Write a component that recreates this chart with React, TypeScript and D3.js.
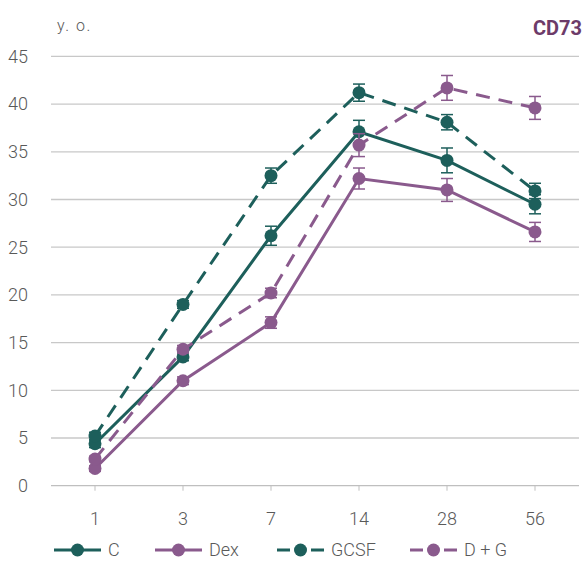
import React from "react";
import * as d3 from "d3";

const categories = ["1", "3", "7", "14", "28", "56"];
const yTicks = [0, 5, 10, 15, 20, 25, 30, 35, 40, 45];

const cValues = [4.4, 13.5, 26.2, 37.1, 34.1, 29.5];
const cErrors = [0.4, 0.4, 1.0, 1.2, 1.3, 1.0];
const dexValues = [1.8, 11.0, 17.1, 32.2, 31.0, 26.6];
const dexErrors = [0.3, 0.4, 0.6, 1.1, 1.2, 1.0];
const gcsfValues = [5.2, 19.0, 32.5, 41.2, 38.1, 30.9];
const gcsfErrors = [0.4, 0.4, 0.8, 0.9, 0.8, 0.8];
const dgValues = [2.8, 14.3, 20.2, 35.7, 41.7, 39.6];
const dgErrors = [0.3, 0.4, 0.5, 1.2, 1.3, 1.2];

const seriesNames = ["C", "Dex", "GCSF", "D + G"];

const TEAL = "#1d5f5b";
const PURPLE = "#8a5a8d";

export default function App() {
  const W = 585, H = 562;
  const left = 51, right = 579, top = 56.4, bottom = 485.7;
  const x = d3.scaleBand<string>().domain(categories).range([left, right]);
  const y = d3.scaleLinear().domain([0, 45]).range([bottom, top]);
  const cx = (c: string) => (x(c) as number) + x.bandwidth() / 2;

  const series = [
    { name: seriesNames[0], values: cValues, errors: cErrors, color: TEAL, dash: "" },
    { name: seriesNames[1], values: dexValues, errors: dexErrors, color: PURPLE, dash: "" },
    { name: seriesNames[2], values: gcsfValues, errors: gcsfErrors, color: TEAL, dash: "14,9" },
    { name: seriesNames[3], values: dgValues, errors: dgErrors, color: PURPLE, dash: "14,9" },
  ];

  const line = d3
    .line<number>()
    .x((_, i) => cx(categories[i]))
    .y((d) => y(d));

  const font = "Roboto, 'Liberation Sans', sans-serif";
  const textColor = "#595959";
  const legendX = [54, 155, 277, 410];

  return (
    <svg
      width={W}
      height={H}
      style={{ position: "absolute", left: 0, top: 0, background: "#fff" }}
      fontFamily={font}
    >
      <rect x={0} y={0} width={W} height={H} fill="#fff" />
      {yTicks.map((t) => (
        <g key={t}>
          <line x1={left} x2={right} y1={y(t)} y2={y(t)} stroke={t === 0 ? "#bfbfbf" : "#c8c8c8"} strokeWidth={1.3} />
          <text x={28} y={y(t)} dy="0.35em" textAnchor="end" fontSize={18} fill={textColor} fontWeight={300}>
            {t}
          </text>
        </g>
      ))}
      {categories.map((c) => (
        <g key={c}>
          <line x1={cx(c)} x2={cx(c)} y1={bottom} y2={bottom + 5} stroke="#bfbfbf" strokeWidth={1} />
          <text x={cx(c)} y={519} dy="0.35em" textAnchor="middle" fontSize={18} fill={textColor} fontWeight={300}>
            {c}
          </text>
        </g>
      ))}
      <text x={57} y={25} dy="0.35em" fontSize={16} fill={textColor} fontWeight={300} letterSpacing={1.5}>
        y. o.
      </text>
      <text x={582} y={28} dy="0.35em" textAnchor="end" fontSize={20} fill="#6d3b69" fontWeight={700}>
        CD73
      </text>
      {series.map((s) => (
        <g key={s.name}>
          <path d={line(s.values) || ""} fill="none" stroke={s.color} strokeWidth={3} strokeDasharray={s.dash || undefined} />
          {s.values.map((v, i) => {
            const px = cx(categories[i]);
            const e = s.errors[i];
            return (
              <g key={i} stroke={s.color} strokeWidth={1.5}>
                <line x1={px} x2={px} y1={y(v - e)} y2={y(v + e)} />
                <line x1={px - 6} x2={px + 6} y1={y(v - e)} y2={y(v - e)} />
                <line x1={px - 6} x2={px + 6} y1={y(v + e)} y2={y(v + e)} />
              </g>
            );
          })}
          {s.values.map((v, i) => (
            <circle key={i} cx={cx(categories[i])} cy={y(v)} r={6.5} fill={s.color} />
          ))}
        </g>
      ))}
      {series.map((s, i) => (
        <g key={s.name}>
          <line
            x1={legendX[i]}
            x2={legendX[i] + 47}
            y1={550}
            y2={550}
            stroke={s.color}
            strokeWidth={3}
            strokeDasharray={s.dash ? "13,21" : undefined}
          />
          <circle cx={legendX[i] + 23.5} cy={550} r={6.5} fill={s.color} />
          <text x={legendX[i] + 54} y={550} dy="0.35em" fontSize={18} fill={textColor} fontWeight={300}>
            {s.name}
          </text>
        </g>
      ))}
    </svg>
  );
}
